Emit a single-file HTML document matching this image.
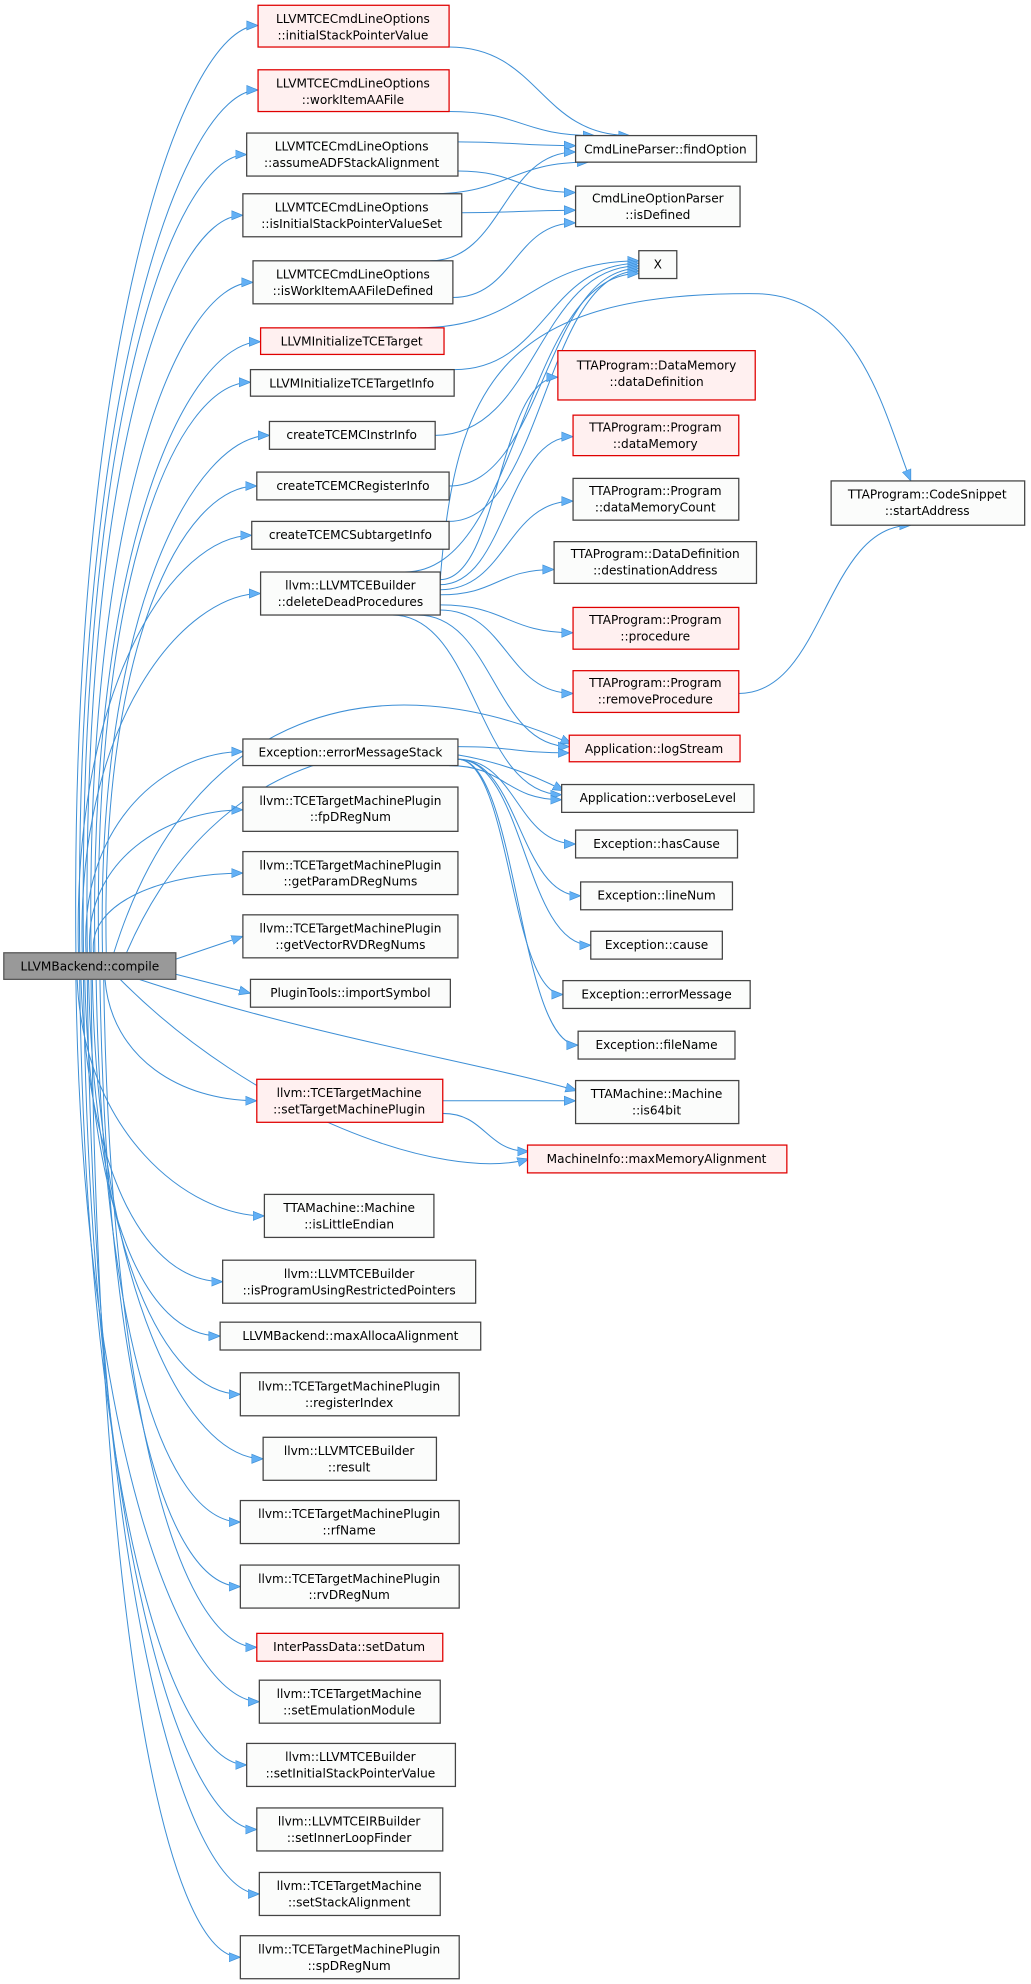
<!DOCTYPE html>
<html><head><meta charset="utf-8"><style>
html,body{margin:0;padding:0;background:#fff;}
svg{display:block}
text{font-family:"DejaVu Sans","Liberation Sans",sans-serif;font-size:9.6px;fill:#000;text-anchor:middle}
.n{fill:#fbfcfb;stroke:#444;stroke-width:1}
.r{fill:#fff0f0;stroke:#e00000;stroke-width:1}
.e{fill:none;stroke:#3d8fd6;stroke-width:0.8}
</style></head><body>
<svg id="s" width="1031" height="1984" viewBox="0 0 815 1568" xmlns="http://www.w3.org/2000/svg">
<defs><marker id="a" viewBox="0 0 10 10" refX="10" refY="5" markerWidth="9" markerHeight="9" markerUnits="userSpaceOnUse" orient="auto"><path d="M0,1 L10,5 L0,9 z" fill="#63b0f5" stroke="#3d8fd6" stroke-width="0.6"/></marker></defs>
<g id="edges"></g>
<g id="nodes">
<rect x="3" y="753" width="136" height="21" fill="#999" stroke="#555"/><text x="71" y="767">LLVMBackend::compile</text>

<rect class="r" x="204" y="4" width="151" height="33"/><text x="279" y="18">LLVMTCECmdLineOptions</text><text x="279" y="31">::initialStackPointerValue</text>
<rect class="r" x="204" y="55" width="151" height="33"/><text x="279" y="69">LLVMTCECmdLineOptions</text><text x="279" y="82">::workItemAAFile</text>
<rect class="n" x="195" y="105" width="167" height="34"/><text x="278" y="119">LLVMTCECmdLineOptions</text><text x="278" y="132">::assumeADFStackAlignment</text>
<rect class="n" x="192" y="153" width="173" height="34"/><text x="278" y="167">LLVMTCECmdLineOptions</text><text x="278" y="180">::isInitialStackPointerValueSet</text>
<rect class="n" x="200" y="206" width="158" height="34"/><text x="279" y="220">LLVMTCECmdLineOptions</text><text x="279" y="233">::isWorkItemAAFileDefined</text>
<rect class="r" x="206" y="259" width="145" height="21"/><text x="278" y="273">LLVMInitializeTCETarget</text>
<rect class="n" x="198" y="292" width="161" height="21"/><text x="278" y="306">LLVMInitializeTCETargetInfo</text>
<rect class="n" x="213" y="333" width="131" height="22"/><text x="278" y="347">createTCEMCInstrInfo</text>
<rect class="n" x="203" y="373" width="152" height="22"/><text x="279" y="387">createTCEMCRegisterInfo</text>
<rect class="n" x="199" y="412" width="156" height="22"/><text x="277" y="426">createTCEMCSubtargetInfo</text>
<rect class="n" x="206" y="452" width="142" height="34"/><text x="277" y="466">llvm::LLVMTCEBuilder</text><text x="277" y="479">::deleteDeadProcedures</text>
<rect class="n" x="192" y="584" width="170" height="21"/><text x="277" y="598">Exception::errorMessageStack</text>
<rect class="n" x="192" y="622" width="170" height="35"/><text x="277" y="636">llvm::TCETargetMachinePlugin</text><text x="277" y="649">::fpDRegNum</text>
<rect class="n" x="192" y="673" width="170" height="34"/><text x="277" y="687">llvm::TCETargetMachinePlugin</text><text x="277" y="700">::getParamDRegNums</text>
<rect class="n" x="192" y="723" width="170" height="34"/><text x="277" y="737">llvm::TCETargetMachinePlugin</text><text x="277" y="750">::getVectorRVDRegNums</text>
<rect class="n" x="198" y="774" width="158" height="22"/><text x="277" y="788">PluginTools::importSymbol</text>
<rect class="r" x="203" y="853" width="147" height="34"/><text x="276" y="867">llvm::TCETargetMachine</text><text x="276" y="880">::setTargetMachinePlugin</text>
<rect class="n" x="209" y="944" width="134" height="34"/><text x="276" y="958">TTAMachine::Machine</text><text x="276" y="971">::isLittleEndian</text>
<rect class="n" x="176" y="996" width="200" height="34"/><text x="276" y="1010">llvm::LLVMTCEBuilder</text><text x="276" y="1023">::isProgramUsingRestrictedPointers</text>
<rect class="n" x="174" y="1045" width="206" height="22"/><text x="277" y="1059">LLVMBackend::maxAllocaAlignment</text>
<rect class="n" x="190" y="1085" width="173" height="34"/><text x="276" y="1099">llvm::TCETargetMachinePlugin</text><text x="276" y="1112">::registerIndex</text>
<rect class="n" x="208" y="1136" width="137" height="34"/><text x="276" y="1150">llvm::LLVMTCEBuilder</text><text x="276" y="1163">::result</text>
<rect class="n" x="190" y="1186" width="173" height="34"/><text x="276" y="1200">llvm::TCETargetMachinePlugin</text><text x="276" y="1213">::rfName</text>
<rect class="n" x="190" y="1237" width="173" height="34"/><text x="276" y="1251">llvm::TCETargetMachinePlugin</text><text x="276" y="1264">::rvDRegNum</text>
<rect class="r" x="203" y="1291" width="147" height="22"/><text x="276" y="1305">InterPassData::setDatum</text>
<rect class="n" x="205" y="1328" width="143" height="34"/><text x="276" y="1342">llvm::TCETargetMachine</text><text x="276" y="1355">::setEmulationModule</text>
<rect class="n" x="195" y="1378" width="165" height="34"/><text x="277" y="1392">llvm::LLVMTCEBuilder</text><text x="277" y="1405">::setInitialStackPointerValue</text>
<rect class="n" x="203" y="1429" width="147" height="34"/><text x="276" y="1443">llvm::LLVMTCEIRBuilder</text><text x="276" y="1456">::setInnerLoopFinder</text>
<rect class="n" x="205" y="1480" width="143" height="34"/><text x="276" y="1494">llvm::TCETargetMachine</text><text x="276" y="1507">::setStackAlignment</text>
<rect class="n" x="190" y="1530" width="173" height="34"/><text x="276" y="1544">llvm::TCETargetMachinePlugin</text><text x="276" y="1557">::spDRegNum</text>

<rect class="n" x="455" y="107" width="143" height="21"/><text x="526" y="121">CmdLineParser::findOption</text>
<rect class="n" x="455" y="147" width="130" height="32"/><text x="520" y="160">CmdLineOptionParser</text><text x="520" y="173">::isDefined</text>
<rect class="n" x="505" y="198" width="30" height="22"/><text x="520" y="212">X</text>
<rect class="r" x="441" y="277" width="156" height="39"/><text x="519" y="292">TTAProgram::DataMemory</text><text x="519" y="305">::dataDefinition</text>
<rect class="r" x="453" y="328" width="131" height="32"/><text x="518" y="341">TTAProgram::Program</text><text x="518" y="354">::dataMemory</text>
<rect class="n" x="453" y="378" width="131" height="33"/><text x="518" y="391">TTAProgram::Program</text><text x="518" y="404">::dataMemoryCount</text>
<rect class="n" x="438" y="428" width="160" height="33"/><text x="518" y="441">TTAProgram::DataDefinition</text><text x="518" y="454">::destinationAddress</text>
<rect class="r" x="453" y="480" width="131" height="33"/><text x="518" y="493">TTAProgram::Program</text><text x="518" y="506">::procedure</text>
<rect class="r" x="453" y="530" width="131" height="33"/><text x="518" y="543">TTAProgram::Program</text><text x="518" y="556">::removeProcedure</text>
<rect class="r" x="450" y="581" width="135" height="21"/><text x="517" y="595">Application::logStream</text>
<rect class="n" x="444" y="620" width="152" height="22"/><text x="520" y="634">Application::verboseLevel</text>
<rect class="n" x="455" y="656" width="128" height="22"/><text x="519" y="670">Exception::hasCause</text>
<rect class="n" x="459" y="697" width="120" height="22"/><text x="519" y="711">Exception::lineNum</text>
<rect class="n" x="467" y="736" width="104" height="22"/><text x="519" y="750">Exception::cause</text>
<rect class="n" x="445" y="775" width="148" height="22"/><text x="519" y="789">Exception::errorMessage</text>
<rect class="n" x="457" y="815" width="124" height="22"/><text x="519" y="829">Exception::fileName</text>
<rect class="n" x="455" y="854" width="129" height="34"/><text x="519" y="868">TTAMachine::Machine</text><text x="519" y="881">::is64bit</text>
<rect class="r" x="417" y="905" width="205" height="22"/><text x="519" y="919">MachineInfo::maxMemoryAlignment</text>
<rect class="n" x="657" y="380" width="153" height="35"/><text x="733" y="394">TTAProgram::CodeSnippet</text><text x="733" y="407">::startAddress</text>
</g>
<script>
(function(){
var g=document.getElementById('edges'),N='http://www.w3.org/2000/svg';
function p(d){var e=document.createElementNS(N,'path');e.setAttribute('d',d);e.setAttribute('class','e');e.setAttribute('marker-end','url(#a)');g.appendChild(e);}
// root -> column 2 [x, ymid]
var t=[[204,20],[204,71],[195,122],[192,170],[200,223],[206,270],[198,302],[213,344],[203,384],[199,423],[206,469],[192,594],[192,640],[192,690],[192,740],[198,785],[203,870],[209,961],[176,1013],[174,1056],[190,1102],[208,1153],[190,1203],[190,1254],[203,1302],[205,1345],[195,1395],[203,1446],[205,1497],[190,1547]];
t.forEach(function(q,i){var tx=q[0],ty=q[1];
 if(Math.abs(ty-763)<40){p('M139,'+(ty<763?758:770)+' L'+tx+','+ty);return;}
 var up=ty<763, x0=60+((i*3)%25), y0=up?753:774;
 p('M'+x0+','+y0+' C'+(x0+ (up?-5:5))+','+(ty+(y0-ty)*0.35)+' '+(tx-60)+','+ty+' '+tx+','+ty);});
// root -> col3 long arcs
p('M90,753 C150,560 300,520 452,588');
p('M100,753 C170,590 320,560 446,625');
p('M110,774 C250,820 380,840 456,862');
p('M95,774 C200,880 350,935 418,916');
function h(sx,sy,tx,ty){var dx=(tx-sx)/2;p('M'+sx+','+sy+' C'+(sx+dx)+','+sy+' '+(tx-dx)+','+ty+' '+tx+','+ty);}
h(355,37,498,107);h(355,88,470,107);
h(362,112,455,115);h(362,135,455,152);
h(340,153,465,128);h(365,168,455,166);
h(340,206,455,120);h(358,235,455,176);
h(330,259,505,206);h(359,292,505,208);h(344,344,505,210);h(355,384,505,212);h(355,412,505,214);h(320,452,505,216);
h(348,458,441,298);h(348,462,453,345);h(348,466,453,396);h(348,470,438,450);h(348,478,453,500);h(348,482,453,548);h(330,486,450,590);h(310,486,444,628);
p('M348,458 C360,300 400,230 600,232 C680,235 700,330 720,380');
h(584,548,720,415);
h(362,590,450,595);h(355,605,444,632);h(362,600,455,667);h(362,600,459,708);h(362,600,467,747);h(362,600,445,786);h(362,600,457,826);
h(350,870,455,870);h(350,880,418,910);
})();
</script>
</svg>
</body></html>
